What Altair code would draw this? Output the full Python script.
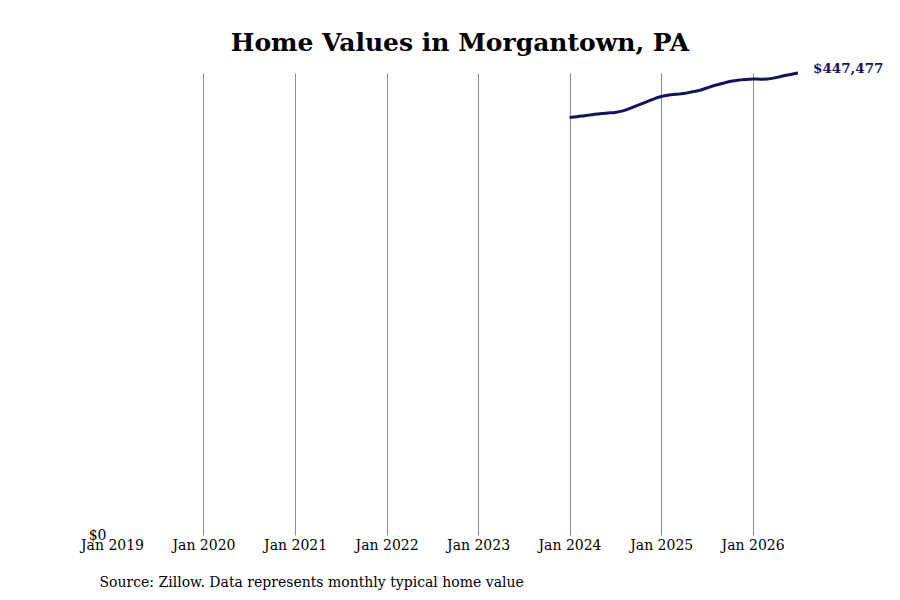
import altair as alt
import pandas as pd

# Monthly typical home value, Jan 2024 - Jul 2026
months = pd.date_range("2024-01-01", "2026-07-01", freq="MS").strftime("%Y-%m-%d").tolist()
values = [
    404470, 405150, 406120, 407090, 408060, 408740, 409320, 410780,
    413500, 416410, 419320, 422240, 424660, 426120, 426800, 427580,
    429030, 430490, 432910, 435340, 437280, 439220, 440390, 441170,
    441650, 441460, 441650, 442810, 444570, 446020, 447477,
]
tick_years = [2019, 2020, 2021, 2022, 2023, 2024, 2025, 2026]

df = pd.DataFrame({"date": months, "value": values})
last = df.tail(1).copy()
last["label"] = last["value"].map(lambda v: f"${v:,.0f}")

font = "DejaVu Serif"
navy = "#16115e"

x_enc = alt.X(
    "date:T",
    scale=alt.Scale(type="utc", domain=[alt.DateTime(year=2019, month=1, date=1, utc=True),
                                        alt.DateTime(year=2026, month=7, date=1, utc=True)]),
    axis=alt.Axis(
        values=[alt.DateTime(year=y, month=1, date=1, utc=True) for y in tick_years],
        labelExpr="utcFormat(datum.value, '%b %Y')",
        title="Source: Zillow. Data represents monthly typical home value",
        titleFont=font, titleFontSize=14, titleFontWeight="normal", titleColor="black",
        titleAnchor="start", titleAlign="left", titleBaseline="middle",
        titleX=-13, titleY=47,
        labelFont=font, labelFontSize=14, labelColor="black", labelPadding=3,
        labelOverlap=False, labelFlush=False, labelBound=False,
        ticks=False, domain=False,
        grid=True, gridColor="#8c8c8c", gridWidth=1,
        gridOpacity={"condition": {"test": "utcyear(datum.value) == 2019", "value": 0}, "value": 1},
    ),
)
y_enc = alt.Y(
    "value:Q",
    scale=alt.Scale(domain=[0, max(values)], nice=False),
    axis=alt.Axis(values=[0], format="$,.0f", title=None, grid=False, ticks=False,
                  domain=False, labelFont=font, labelFontSize=14, labelColor="black",
                  labelPadding=6),
)

line = alt.Chart(df).mark_line(color=navy, strokeWidth=3, interpolate="monotone").encode(
    x=x_enc, y=y_enc
)

end_label = alt.Chart(last).mark_text(
    align="left", baseline="middle", dx=15, dy=-4,
    font=font, fontSize=13.5, fontWeight="bold", color=navy,
).encode(x="date:T", y="value:Q", text="label:N")

chart = (line + end_label).properties(
    width=686,
    height=462,
    autosize=alt.AutoSizeParams(type="none"),
    padding={"left": 104, "top": 65, "right": 94, "bottom": 57},
    title=alt.TitleParams("Home Values in Morgantown, PA", font=font, fontSize=25,
                          fontWeight="bold", color="black", anchor="middle", offset=6, dx=5),
).configure_view(stroke=None)

chart.save("out.html", embed_options={"renderer": "svg", "actions": False})
